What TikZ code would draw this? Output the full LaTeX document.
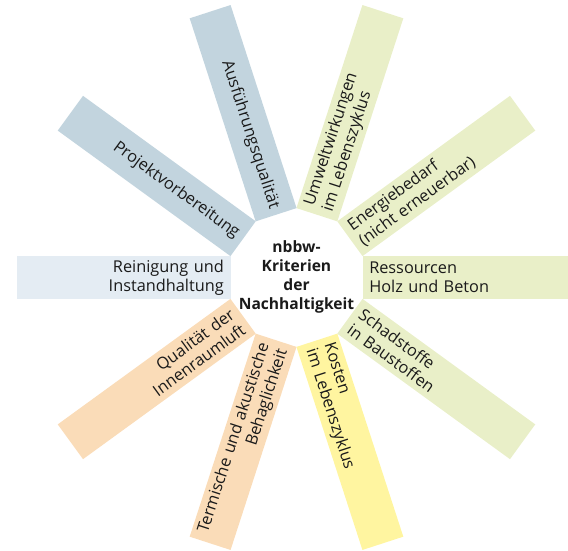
\documentclass[tikz,border=0pt]{standalone}
\usepackage{fontspec}
\setmainfont{Open Sans}
\definecolor{cblue}{HTML}{C2D4DE}
\definecolor{clight}{HTML}{E4ECF3}
\definecolor{cgreen}{HTML}{E9EFC8}
\definecolor{cyellow}{HTML}{FFF5A0}
\definecolor{cpeach}{HTML}{FADCB8}
\definecolor{ctext}{HTML}{1A1A1A}
\begin{document}
\begin{tikzpicture}[x=1pt,y=1pt,
  bar/.style={minimum width=213.5pt, minimum height=43pt, inner sep=0pt,
    text width=200pt, text=ctext, font=\fontsize{16.3}{19}\selectfont},
  barR/.style={bar, align=left},
  barL/.style={bar, align=right},
  hub/.style={align=center, text=ctext,
    font=\bfseries\fontsize{15.6}{19}\selectfont}]
\useasboundingbox (0,0) rectangle (568,550);
\clip (0,0) rectangle (568,550);
\coordinate (C) at (296.5,272.5);
\def\rm{172.75}
\node[barR, fill=cgreen, rotate=0] (b0) at ([shift={(0:\rm)}]C) {Ressourcen\\Holz und Beton};
\node[barR, fill=cgreen, rotate=36] (b36) at ([shift={(36:\rm)}]C) {Energiebedarf\\(nicht erneuerbar)};
\node[barR, fill=cgreen, rotate=72] (b72) at ([shift={(72:\rm)}]C) {Umweltwirkungen\\im Lebenszyklus};
\node[barL, fill=cblue, rotate=-72] (b108) at ([shift={(108:\rm)}]C) {Ausführungsqualität};
\node[barL, fill=cblue, rotate=-36] (b144) at ([shift={(144:\rm)}]C) {Projektvorbereitung};
\node[barL, fill=clight, rotate=0] (b180) at ([shift={(180:\rm)}]C) {Reinigung und\\Instandhaltung};
\node[barL, fill=cpeach, rotate=36] (b216) at ([shift={(216:\rm)}]C) {Qualität der\\Innenraumluft};
\node[barL, fill=cpeach, rotate=72] (b252) at ([shift={(252:\rm)}]C) {Termische und akustische\\Behaglichkeit};
\node[barR, fill=cyellow, rotate=-72] (b288) at ([shift={(288:\rm)}]C) {Kosten\\im Lebenszyklus};
\node[barR, fill=cgreen, rotate=-36] (b324) at ([shift={(324:\rm)}]C) {Schadstoffe\\in Baustoffen};
\node[hub] (hub) at ([yshift=1pt]C) {nbbw-\\Kriterien\\der\\Nachhaltigkeit};
\end{tikzpicture}
\end{document}
